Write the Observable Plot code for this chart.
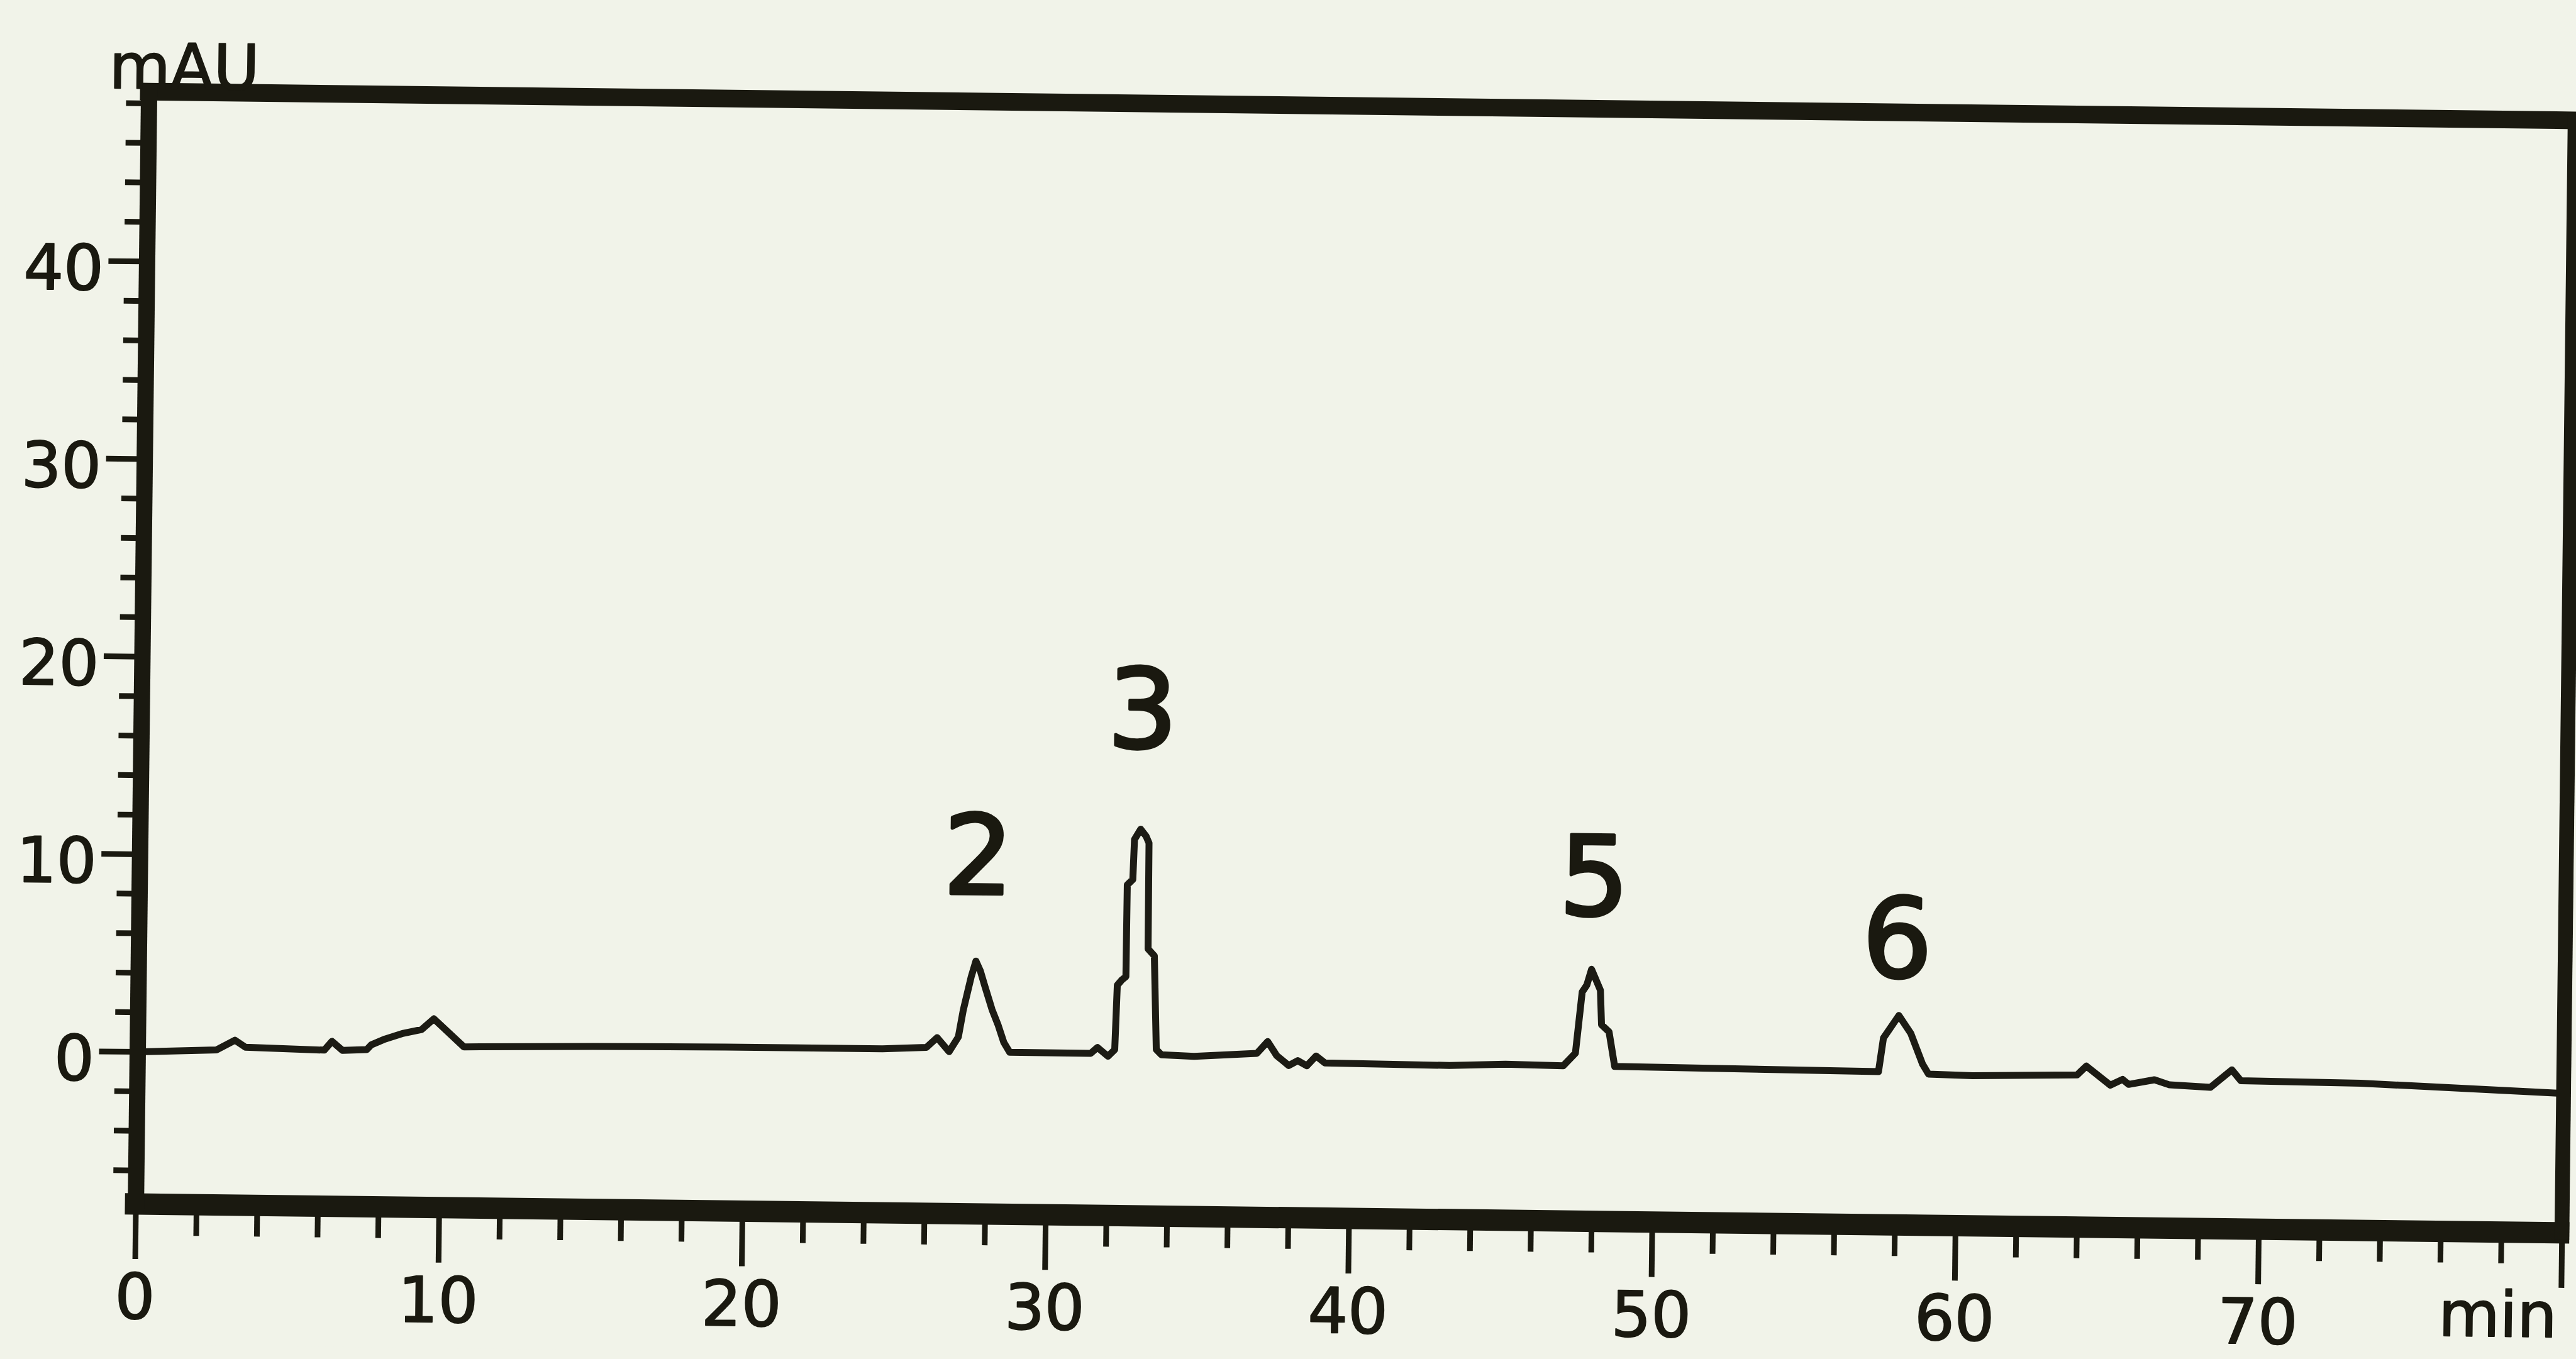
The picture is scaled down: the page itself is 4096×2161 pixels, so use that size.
<!DOCTYPE html>
<html>
<head>
<meta charset="utf-8">
<script src="https://cdn.jsdelivr.net/npm/d3@7"></script>
<script src="https://cdn.jsdelivr.net/npm/@observablehq/plot@0.6"></script>
<style>
  html, body { margin: 0; padding: 0; background: #f1f3e9; overflow: hidden; width: 4096px; height: 2161px; }
  #chart svg { display: block; transform: rotate(0.68deg); transform-origin: 2155px 1052px; }
</style>
</head>
<body>
<div id="chart"></div>
<script>
// Retention time (min) and detector signal (mAU)
const times = [
  0, 2.6, 3.2, 3.55, 6.15, 6.4, 6.75, 7.55, 7.7, 8.15, 8.75, 9.35, 9.75, 10.75, 15.0, 19.4,
  24.55, 26.0, 26.35, 26.75, 27.05, 27.2, 27.45, 27.6, 27.75, 27.9, 28.15, 28.35, 28.55, 28.75,
  31.42, 31.64, 31.99, 32.21, 32.27, 32.41, 32.55, 32.56, 32.74, 32.78, 32.98, 33.16, 33.26, 33.27, 33.48, 33.58, 33.75, 34.83,
  36.9, 37.25, 37.55, 37.95, 38.25, 38.55, 38.85, 39.15, 43.25, 45.1, 47.0, 47.4, 47.6, 47.75, 47.9, 48.2, 48.25, 48.5, 48.7,
  57.4, 57.55, 58.05, 58.45, 58.85, 59.05, 60.5, 63.95, 64.25, 65.05, 65.45, 65.65, 66.5, 67.0, 68.35, 69.05, 69.35, 73.3, 80
];
const signal = [
  0, 0.15, 0.65, 0.3, 0.2, 0.65, 0.2, 0.25, 0.5, 0.8, 1.1, 1.3, 1.85, 0.45, 0.55, 0.6,
  0.6, 0.7, 1.2, 0.5, 1.25, 2.6, 4.3, 5.1, 4.6, 3.85, 2.65, 1.9, 1.0, 0.5,
  0.5, 0.8, 0.36, 0.7, 3.96, 4.22, 4.4, 9.05, 9.32, 11.35, 11.87, 11.52, 11.17, 5.82, 5.47, 0.73, 0.47, 0.41,
  0.6, 1.2, 0.5, 0.0, 0.25, 0.0, 0.5, 0.15, 0.1, 0.2, 0.15, 0.8, 3.9, 4.25, 5.05, 4.0, 2.25, 1.9, 0.15,
  0.05, 1.75, 2.9, 2.0, 0.45, -0.05, -0.1, 0.0, 0.45, -0.5, -0.2, -0.45, -0.2, -0.45, -0.55, 0.35, -0.2, -0.25, -0.65
];

// Peak annotations
const peakNames = ["2", "3", "5", "6"];
const peakTimes = [27.64, 33.0, 47.95, 57.97];
const peakLabelLevels = [8.5, 16.0, 7.8, 4.85];

// Axes
const xDomain = [0, 80];
const yDomain = [-7.7, 48.6];
const xMajorTicks = [0, 10, 20, 30, 40, 50, 60, 70, 80];
const xTickLabels = ["0", "10", "20", "30", "40", "50", "60", "70", ""];
const xMinorTicks = [2,4,6,8,12,14,16,18,22,24,26,28,32,34,36,38,42,44,46,48,52,54,56,58,62,64,66,68,72,74,76,78];
const yMajorTicks = [0, 10, 20, 30, 40];
const yMinorTicks = [-6,-4,-2,2,4,6,8,12,14,16,18,22,24,26,28,32,34,36,38,42,44,46,48];
const yUnit = "mAU";
const xUnit = "min";

const trace = times.map((t, i) => ({t, v: signal[i]}));
const ink = "#1a1910";

const chart = Plot.plot({
  width: 4096,
  height: 2161,
  marginLeft: 226,
  marginRight: 12,
  marginTop: 168,
  marginBottom: 224,
  x: {domain: xDomain, label: null},
  y: {domain: yDomain, label: null},
  style: {background: "#f1f3e9", color: ink, fontFamily: "'DejaVu Sans', sans-serif", fontSize: "100px"},
  marks: [
    Plot.axisX(xMinorTicks, {anchor: "bottom", tickSize: 50, strokeWidth: 9, tickFormat: () => "", label: null}),
    Plot.axisX(xMajorTicks, {anchor: "bottom", tickSize: 88, tickPadding: 23, strokeWidth: 9, fontSize: 100,
      tickFormat: (d) => xTickLabels[xMajorTicks.indexOf(d)], label: null, textStroke: ink, textStrokeWidth: 2}),
    Plot.axisY(yMinorTicks, {anchor: "left", tickSize: 36, strokeWidth: 9, tickFormat: () => "", label: null}),
    Plot.axisY(yMajorTicks, {anchor: "left", tickSize: 61, strokeWidth: 9, tickFormat: () => "", label: null}),
    Plot.axisY(yMajorTicks, {anchor: "left", tickSize: 0, tickPadding: 69, dy: 14, fontSize: 100, label: null,
      textStroke: ink, textStrokeWidth: 2}),
    Plot.line(trace, {x: "t", y: "v", stroke: "#1c1b14", strokeWidth: 11, strokeLinejoin: "round", strokeLinecap: "round"}),
    Plot.ruleY([yDomain[1]], {stroke: ink, strokeWidth: 28, strokeLinecap: "square"}),
    Plot.ruleY([yDomain[0]], {stroke: ink, strokeWidth: 34, strokeLinecap: "square"}),
    Plot.ruleX([xDomain[0]], {stroke: ink, strokeWidth: 26, strokeLinecap: "square"}),
    Plot.ruleX([xDomain[1]], {stroke: ink, strokeWidth: 24, strokeLinecap: "square"}),
    Plot.text(peakNames, {x: (d, i) => peakTimes[i], y: (d, i) => peakLabelLevels[i], text: (d) => d,
      fontSize: 175, textAnchor: "middle", lineAnchor: "bottom", fill: ink, stroke: ink, strokeWidth: 5}),
    Plot.text([yUnit], {frameAnchor: "top-left", dx: -64, dy: -5, textAnchor: "start", lineAnchor: "bottom",
      fontSize: 100, fill: ink, stroke: ink, strokeWidth: 2}),
    Plot.text([xUnit], {frameAnchor: "bottom-right", dx: -195, dy: 166, textAnchor: "start", lineAnchor: "bottom",
      fontSize: 100, fill: ink, stroke: ink, strokeWidth: 2})
  ]
});
document.getElementById("chart").append(chart);
</script>
</body>
</html>
